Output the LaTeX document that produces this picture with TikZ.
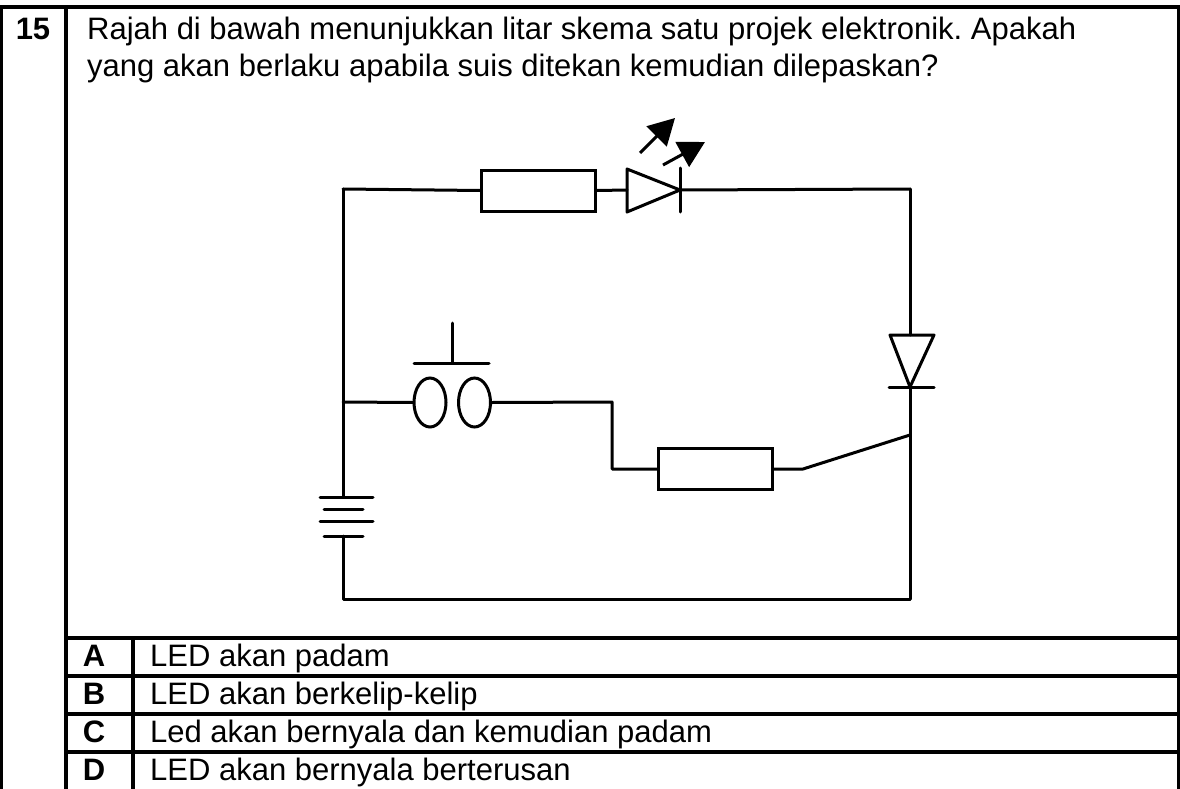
\documentclass[tikz,border=0pt]{standalone}
\usepackage{fontspec}
\setmainfont{Liberation Sans}
\usetikzlibrary{arrows.meta,shapes.geometric}
\frenchspacing
\tikzset{
  wire/.style={line width=3pt, line cap=round, line join=round},
  tbl/.style={line width=3.5pt},
  resbox/.style={draw, line width=3pt, rectangle, minimum width=114pt, minimum height=41pt, inner sep=0pt},
  contact/.style={draw, line width=3pt, ellipse, minimum width=32pt, minimum height=49pt, inner sep=0pt},
  lightarrow/.style={line width=3pt, -{Triangle[length=26pt,width=28pt]}},
  qtext/.style={anchor=base west, inner sep=0pt, font=\fontsize{31}{36}\selectfont},
  qnum/.style={anchor=base, inner sep=0pt, font=\fontsize{31}{36}\selectfont\bfseries},
}
\begin{document}
\begin{tikzpicture}[x=1pt,y=-1pt]
\useasboundingbox (0,0) rectangle (1180,789);
% table
\draw[tbl] (0,7) -- (1180,7);
\draw[tbl] (1.5,7) -- (1.5,789);
\draw[tbl] (1178.5,7) -- (1178.5,789);
\draw[tbl] (66,7) -- (66,789);
\draw[tbl] (66,638) -- (1180,638);
\draw[tbl] (66,676) -- (1180,676);
\draw[tbl] (66,714) -- (1180,714);
\draw[tbl] (66,752) -- (1180,752);
\draw[tbl] (133,638) -- (133,789);
% texts
\node[qnum] (num) at (33,40) {15};
\node[qtext] (q1) at (87,40) {Rajah di bawah menunjukkan litar skema satu projek elektronik. Apakah};
\node[qtext] (q2) at (87,77) {yang akan berlaku apabila suis ditekan kemudian dilepaskan?};
\node[qnum] (la) at (94,666) {A};
\node[qtext] (ta) at (150,666) {LED akan padam};
\node[qnum] (lb) at (94,704) {B};
\node[qtext] (tb) at (150,704) {LED akan berkelip-kelip};
\node[qnum] (lc) at (94,742) {C};
\node[qtext] (tc) at (150,742) {Led akan bernyala dan kemudian padam};
\node[qnum] (ld) at (94,780) {D};
\node[qtext] (td) at (150,780) {LED akan bernyala berterusan};
% circuit coordinates
\coordinate (TL) at (343,189);
\coordinate (TR) at (910,189);
\coordinate (BL) at (343,599);
\coordinate (BR) at (910,599);
\coordinate (SWL) at (343,402);
\coordinate (J) at (910,435);
% top resistor and LED
\node[resbox] (R1) at (538.5,190.5) {};
\coordinate (ledA) at (627,190);
\coordinate (ledK) at (680,190);
\draw[wire] (627,169) -- (680,190) -- (627,212) -- cycle;
\draw[wire] (680,168) -- (680,212);
\draw[wire] (TL) -- (R1.west);
\draw[wire] (R1.east) -- (ledA);
\draw[wire] (ledK) -- (TR);
\coordinate (a1s) at (640,153);
\coordinate (a1e) at (675,118);
\coordinate (a2s) at (663,165);
\coordinate (a2e) at (705,142);
\draw[lightarrow] (a1s) -- (a1e);
\draw[lightarrow] (a2s) -- (a2e);
% right diode
\coordinate (dA) at (910,335);
\coordinate (dK) at (910,387);
\draw[wire] (890,335) -- (934,335) -- (dK) -- cycle;
\draw[wire] (889,387) -- (934,387);
\draw[wire] (TR) -- (dA);
\draw[wire] (dK) -- (BR);
% left wire and battery
\coordinate (b1) at (343,497);
\coordinate (b4) at (343,536);
\draw[wire] (TL) -- (b1);
\draw[wire] (320,497) -- (373,497);
\draw[wire] (324,509) -- (363,509);
\draw[wire] (320,521) -- (373,521);
\draw[wire] (324,536) -- (363,536);
\draw[wire] (b4) -- (BL) -- (BR);
% push switch
\node[contact] (c1) at (430,402.5) {};
\node[contact] (c2) at (474.5,402.5) {};
\coordinate (pb) at (452,363);
\coordinate (pt) at (452,323);
\draw[wire] (414,363) -- (489,363);
\draw[wire] (pb) -- (pt);
\draw[wire] (SWL) -- (c1.west);
% lower branch
\node[resbox] (R2) at (715.5,469) {};
\coordinate (k1) at (612,402);
\coordinate (k2) at (612,469);
\coordinate (k3) at (803,469);
\draw[wire] (c2.east) -- (k1) -- (k2) -- (R2.west);
\draw[wire] (R2.east) -- (k3) -- (J);
\end{tikzpicture}
\end{document}
